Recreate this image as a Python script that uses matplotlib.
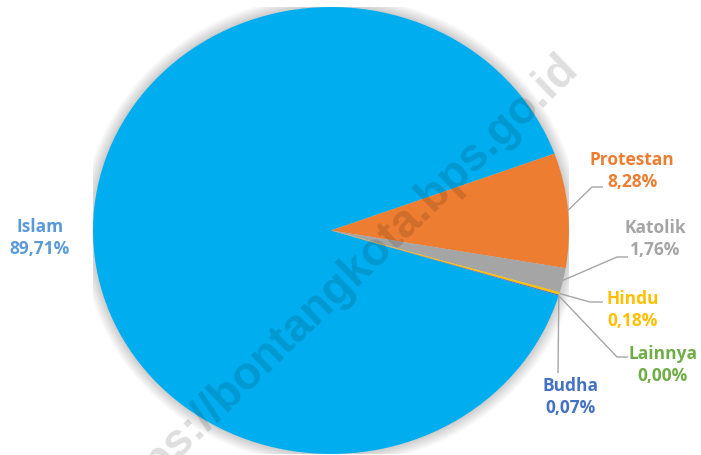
import numpy as np
import matplotlib
matplotlib.use("Agg")
import matplotlib.pyplot as plt
from matplotlib.patches import Ellipse

# data (percent of population by religion)
religions = ["Islam", "Protestan", "Katolik", "Hindu", "Budha", "Lainnya"]
shares = [89.71, 8.28, 1.76, 0.18, 0.07, 0.00]
slice_colors = ["#00AEEF", "#ED7D31", "#A5A5A5", "#FFC000", "#4472C4", "#70AD47"]
label_colors = ["#5B9BD5", "#ED7D31", "#A5A5A5", "#FFC000", "#4472C4", "#70AD47"]

W, H = 701, 455
CX, CY = 331.0, 230.5      # pie centre, pixels from top-left
RX, RY = 238.0, 223.5      # pie radii (image is slightly squashed)

# label layout: text centre, then leader path (elbow, end) in pixels; None = no leader
label_pos = {
    "Islam": (40, 238),
    "Protestan": (632, 171),
    "Katolik": (655, 239),
    "Hindu": (633, 310),
    "Budha": (570, 397),
    "Lainnya": (663, 365),
}
leaders = {
    "Islam": None,
    "Protestan": [(592, 187), (603, 187)],
    "Katolik": [(617, 257), (628, 257)],
    "Hindu": [(590, 302), (603, 302)],
    "Budha": [(558, 373)],
    "Lainnya": [(617, 357), (628, 357)],
}

fig = plt.figure(figsize=(W / 100, H / 100), dpi=100)

ax = fig.add_axes([(CX - RX) / W, (H - CY - RY) / H, 2 * RX / W, 2 * RY / H])
# soft glow around the pie
for k in range(8):
    ax.add_patch(Ellipse((0, 0), 2 + 0.012 * (k + 1), 2 + 0.013 * (k + 1),
                         facecolor="#000000", edgecolor="none", alpha=0.025, zorder=0))
wedges, _ = ax.pie(shares, colors=slice_colors, startangle=-16.94, counterclock=False,
                   radius=1.0, wedgeprops=dict(linewidth=0, zorder=2))
ax.set_aspect("auto")
ax.set_xlim(-1, 1)
ax.set_ylim(-1, 1)
ax.axis("off")

ov = fig.add_axes([0, 0, 1, 1], facecolor="none")
ov.set_xlim(0, W)
ov.set_ylim(H, 0)
ov.axis("off")

font = dict(family=["Open Sans", "DejaVu Sans"], fontweight="bold", fontsize=12.5)
for name, share, wedge, col in zip(religions, shares, wedges, label_colors):
    tx, ty = label_pos[name]
    txt = f"{name}\n{share:.2f}%".replace(".", ",")
    ov.text(tx, ty, txt, color=col, ha="center", va="center", linespacing=1.25, **font)
    path = leaders[name]
    if path is None:
        continue
    mid = np.deg2rad((wedge.theta1 + wedge.theta2) / 2)
    start = (CX + RX * np.cos(mid), CY - RY * np.sin(mid))
    pts = [start] + path
    ov.plot([p[0] for p in pts], [p[1] for p in pts], color="#A6A6A6", lw=1.0,
            solid_capstyle="butt")

# watermark
ov.text(580, 70, "https://bontangkota.bps.go.id", rotation=44, rotation_mode="anchor",
        ha="right", va="baseline", fontsize=33, fontweight="bold",
        family="Liberation Sans", color="#000000", alpha=0.13, zorder=5)

fig.savefig("out.png", dpi=100, facecolor="white")
